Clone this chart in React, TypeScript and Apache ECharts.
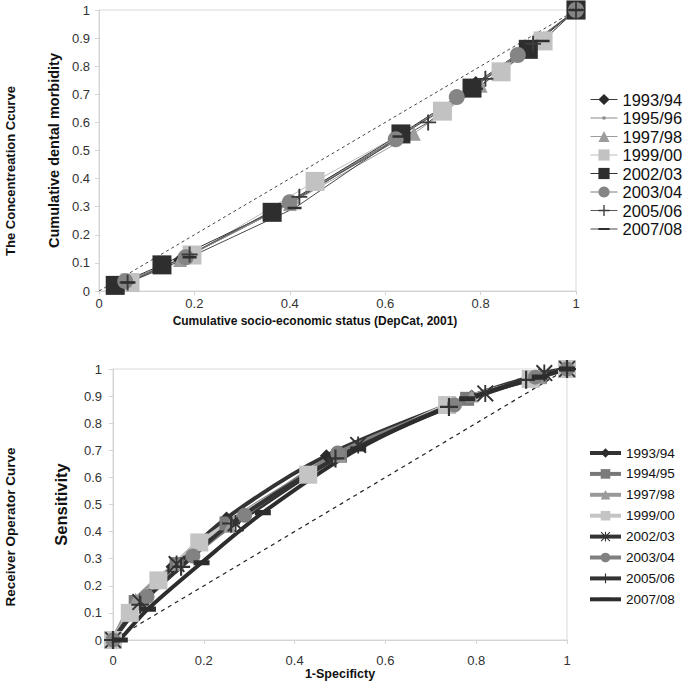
import React, { useEffect, useRef } from 'react';
import * as echarts from 'echarts';

// ---------- Top chart: concentration curve ----------
const topNames = ['1993/94', '1995/96', '1997/98', '1999/00', '2002/03', '2003/04', '2005/06', '2007/08'];
const topX1993 = [0.05, 0.17, 0.4, 0.64, 0.79, 0.9, 1];
const topY1993 = [0.03, 0.11, 0.31, 0.56, 0.74, 0.87, 1];
const topX1995 = [0.05, 0.17, 0.39, 0.63, 0.78, 0.89, 1];
const topY1995 = [0.03, 0.11, 0.31, 0.55, 0.72, 0.86, 1];
const topX1997 = [0.05, 0.17, 0.4, 0.66, 0.8, 0.9, 1];
const topY1997 = [0.03, 0.11, 0.31, 0.56, 0.73, 0.86, 1];
const topX1999 = [0.065, 0.195, 0.453, 0.72, 0.843, 0.931, 1];
const topY1999 = [0.03, 0.128, 0.39, 0.64, 0.78, 0.89, 1];
const topX2002 = [0.034, 0.132, 0.363, 0.633, 0.782, 0.9, 1];
const topY2002 = [0.02, 0.093, 0.28, 0.559, 0.722, 0.86, 1];
const topX2003 = [0.055, 0.182, 0.4, 0.622, 0.75, 0.878, 1];
const topY2003 = [0.035, 0.12, 0.316, 0.54, 0.69, 0.84, 1];
const topX2005 = [0.06, 0.19, 0.42, 0.69, 0.81, 0.91, 1];
const topY2005 = [0.03, 0.13, 0.335, 0.6, 0.755, 0.88, 1];
const topX2007 = [0.06, 0.19, 0.41, 0.63, 0.79, 0.93, 1];
const topY2007 = [0.03, 0.12, 0.295, 0.55, 0.72, 0.89, 1];

// ---------- Bottom chart: ROC curve ----------
const botNames = ['1993/94', '1994/95', '1997/98', '1999/00', '2002/03', '2003/04', '2005/06', '2007/08'];
const botX1993 = [0, 0.05, 0.13, 0.25, 0.47, 0.79, 0.94, 1];
const botY1993 = [0, 0.14, 0.27, 0.45, 0.68, 0.9, 0.98, 1];
const botX1994 = [0, 0.05, 0.14, 0.25, 0.5, 0.78, 0.94, 1];
const botY1994 = [0, 0.14, 0.28, 0.43, 0.68, 0.89, 0.97, 1];
const botX1997 = [0, 0.05, 0.14, 0.257, 0.5, 0.79, 0.94, 1];
const botY1997 = [0, 0.15, 0.28, 0.42, 0.68, 0.9, 0.97, 1];
const botX1999 = [0, 0.037, 0.1, 0.19, 0.43, 0.736, 0.92, 1];
const botY1999 = [0, 0.1, 0.22, 0.36, 0.61, 0.867, 0.963, 1];
const botX2002 = [0, 0.06, 0.14, 0.27, 0.54, 0.82, 0.95, 1];
const botY2002 = [0, 0.14, 0.28, 0.43, 0.72, 0.91, 0.985, 1];
const botX2003 = [0, 0.075, 0.176, 0.29, 0.495, 0.752, 0.93, 1];
const botY2003 = [0, 0.16, 0.31, 0.46, 0.69, 0.867, 0.97, 1];
const botX2005 = [0, 0.06, 0.15, 0.26, 0.49, 0.74, 0.91, 1];
const botY2005 = [0, 0.13, 0.27, 0.43, 0.67, 0.86, 0.96, 1];
const botX2007 = [0.015, 0.077, 0.195, 0.33, 0.54, 0.78, 0.94, 1];
const botY2007 = [0, 0.114, 0.285, 0.47, 0.705, 0.89, 0.97, 1];

const diagonal = [[0, 0], [1, 1]];

const zip = (xs: number[], ys: number[]) => xs.map((x, i) => [x, ys[i]]);

const SPECKS = 'M0,0h0.01v0.01h-0.01z M9.99,9.99h0.01v0.01h-0.01z ';
const PLUS = 'path://M0,4.4h10v1.2h-10z M4.4,0h1.2v10h-1.2z';
const DASH_THIN = 'path://' + SPECKS + 'M0,4.1h10v1.8h-10z';
const DASH_THICK = 'path://' + SPECKS + 'M0,3.4h10v3.2h-10z';
const TINY_SQ = 'path://' + SPECKS + 'M3.6,3.6h2.8v2.8h-2.8z';
const ASTER = 'path://M4.45,0h1.1v10h-1.1z M0,0.8L0.8,0L10,9.2L9.2,10z M9.2,0L10,0.8L0.8,10L0,9.2z';

const FONT = '"Liberation Sans", Arial, Helvetica, sans-serif';

export default function App() {
  const ref = useRef<HTMLDivElement>(null);

  useEffect(() => {
    document.body.style.margin = '0';
    if (!ref.current) return;
    const chart = echarts.init(ref.current, undefined, { renderer: 'svg' });

    const topSpec = [
      { n: topNames[0], d: zip(topX1993, topY1993), c: '#2a2a2a', lc: '#3a3a3a', s: 'diamond', sz: 14 },
      { n: topNames[1], d: zip(topX1995, topY1995), c: '#8a8a8a', lc: '#8a8a8a', s: TINY_SQ, sz: 14 },
      { n: topNames[2], d: zip(topX1997, topY1997), c: '#9c9c9c', lc: '#9c9c9c', s: 'triangle', sz: 14 },
      { n: topNames[3], d: zip(topX1999, topY1999), c: '#c2c2c2', lc: '#bdbdbd', s: 'rect', sz: 19 },
      { n: topNames[4], d: zip(topX2002, topY2002), c: '#2e2e2e', lc: '#333333', s: 'rect', sz: 19 },
      { n: topNames[5], d: zip(topX2003, topY2003), c: '#858585', lc: '#7a7a7a', s: 'circle', sz: 16 },
      { n: topNames[6], d: zip(topX2005, topY2005), c: '#3c3c3c', lc: '#555555', s: PLUS, sz: 16 },
      { n: topNames[7], d: zip(topX2007, topY2007), c: '#2f2f2f', lc: '#4a4a4a', s: DASH_THIN, sz: 14 },
    ];

    const botSpec = [
      { n: botNames[0], d: zip(botX1993, botY1993), c: '#2b2b2b', lc: '#333333', s: 'diamond', sz: 13 },
      { n: botNames[1], d: zip(botX1994, botY1994), c: '#7a7a7a', lc: '#777777', s: 'rect', sz: 14 },
      { n: botNames[2], d: zip(botX1997, botY1997), c: '#9a9a9a', lc: '#999999', s: 'triangle', sz: 13 },
      { n: botNames[3], d: zip(botX1999, botY1999), c: '#c4c4c4', lc: '#c4c4c4', s: 'rect', sz: 18 },
      { n: botNames[4], d: zip(botX2002, botY2002), c: '#333333', lc: '#333333', s: ASTER, sz: 17 },
      { n: botNames[5], d: zip(botX2003, botY2003), c: '#828282', lc: '#808080', s: 'circle', sz: 15 },
      { n: botNames[6], d: zip(botX2005, botY2005), c: '#333333', lc: '#333333', s: PLUS, sz: 18 },
      { n: botNames[7], d: zip(botX2007, botY2007), c: '#2d2d2d', lc: '#2d2d2d', s: DASH_THICK, sz: 16 },
    ];

    const axisCommon = {
      type: 'value' as const,
      min: 0,
      max: 1,
      axisLine: { show: true, lineStyle: { color: '#d4d4d4', width: 1 } },
      axisTick: { show: true, length: 4, lineStyle: { color: '#d4d4d4' } },
      splitLine: { show: false },
      axisLabel: { color: '#333', fontSize: 13, fontFamily: FONT, showMinLabel: true, showMaxLabel: true },
    };

    const series: any[] = [];
    series.push({
      type: 'line', name: '_diag_top', xAxisIndex: 0, yAxisIndex: 0, data: diagonal,
      symbol: 'none', silent: true, z: 1,
      lineStyle: { color: '#444', width: 1, type: [3, 3] },
    });
    topSpec.forEach((t) => {
      series.push({
        type: 'line', name: 't:' + t.n, xAxisIndex: 0, yAxisIndex: 0, data: t.d,
        symbol: t.s, symbolSize: t.sz, clip: false, z: 2,
        lineStyle: { color: t.lc, width: 1 },
        itemStyle: { color: t.c, borderWidth: 0 },
      });
    });
    series.push({
      type: 'line', name: '_diag_bot', xAxisIndex: 1, yAxisIndex: 1, data: diagonal,
      symbol: 'none', silent: true, z: 1,
      lineStyle: { color: '#222', width: 1.2, type: [4, 4] },
    });
    botSpec.forEach((t) => {
      series.push({
        type: 'line', name: 'b:' + t.n, xAxisIndex: 1, yAxisIndex: 1, data: t.d,
        symbol: t.s, symbolSize: t.sz, clip: false, z: 2, smooth: 0.3,
        lineStyle: { color: t.lc, width: 4 },
        itemStyle: { color: t.c, borderWidth: 0 },
      });
    });

    const option: any = {
      animation: false,
      backgroundColor: '#ffffff',
      textStyle: { fontFamily: FONT },
      grid: [
        { left: 99, top: 10, width: 477, height: 281, show: true, borderColor: '#d9d9d9', borderWidth: 1, backgroundColor: 'transparent' },
        { left: 113, top: 369, width: 454, height: 271, show: true, borderColor: '#d9d9d9', borderWidth: 1, backgroundColor: 'transparent' },
      ],
      xAxis: [
        { ...axisCommon, gridIndex: 0, interval: 0.2, axisLabel: { ...axisCommon.axisLabel, margin: 6 } },
        { ...axisCommon, gridIndex: 1, interval: 0.2, axisLabel: { ...axisCommon.axisLabel, margin: 14 },
          name: '1-Specificty', nameLocation: 'middle', nameGap: 26,
          nameTextStyle: { fontSize: 12.5, fontWeight: 'bold', color: '#111', fontFamily: FONT } },
      ],
      yAxis: [
        { ...axisCommon, gridIndex: 0, interval: 0.1, axisLabel: { ...axisCommon.axisLabel, margin: 9 },
          name: 'Cumulative dental morbidity', nameLocation: 'middle', nameGap: 32,
          nameTextStyle: { fontSize: 14.5, fontWeight: 'bold', color: '#111', fontFamily: FONT } },
        { ...axisCommon, gridIndex: 1, interval: 0.1, axisLabel: { ...axisCommon.axisLabel, margin: 11 },
          name: 'Sensitivity', nameLocation: 'middle', nameGap: 44,
          nameTextStyle: { fontSize: 16.5, fontWeight: 'bold', color: '#111', fontFamily: FONT } },
      ],
      legend: [
        {
          data: topNames.map((n) => 't:' + n),
          formatter: (name: string) => name.replace(/^t:/, ''),
          orient: 'vertical', left: 585, top: 86,
          itemWidth: 27, itemHeight: 14, itemGap: 1.5,
          selectedMode: false,
          lineStyle: { width: 1 },
          textStyle: { fontSize: 16.5, lineHeight: 16, color: '#111', fontFamily: FONT },
        },
        {
          data: botNames.map((n) => 'b:' + n),
          formatter: (name: string) => name.replace(/^b:/, ''),
          orient: 'vertical', left: 583, top: 441,
          itemWidth: 31, itemHeight: 12, itemGap: 6.9,
          selectedMode: false,
          lineStyle: { width: 4 },
          textStyle: { fontSize: 13.5, lineHeight: 14, color: '#111', fontFamily: FONT },
        },
      ],
      graphic: [
        {
          type: 'text', x: 10, y: 171, rotation: Math.PI / 2,
          style: { text: 'The Concentreation Ccurve', font: `bold 13px ${FONT}`, fill: '#111', align: 'center', verticalAlign: 'middle', textAlign: 'center', textVerticalAlign: 'middle' },
        },
        {
          type: 'text', x: 315, y: 321,
          style: { text: 'Cumulative socio-economic status (DepCat, 2001)', font: `bold 12px ${FONT}`, fill: '#111', align: 'center', verticalAlign: 'middle', textAlign: 'center', textVerticalAlign: 'middle' },
        },
        {
          type: 'text', x: 10, y: 527, rotation: Math.PI / 2,
          style: { text: 'Receiver Operator Curve', font: `bold 13.5px ${FONT}`, fill: '#111', align: 'center', verticalAlign: 'middle', textAlign: 'center', textVerticalAlign: 'middle' },
        },
      ],
      series,
    };

    chart.setOption(option);
    return () => chart.dispose();
  }, []);

  return <div ref={ref} style={{ width: 686, height: 683, position: 'absolute', left: 0, top: 0 }} />;
}
